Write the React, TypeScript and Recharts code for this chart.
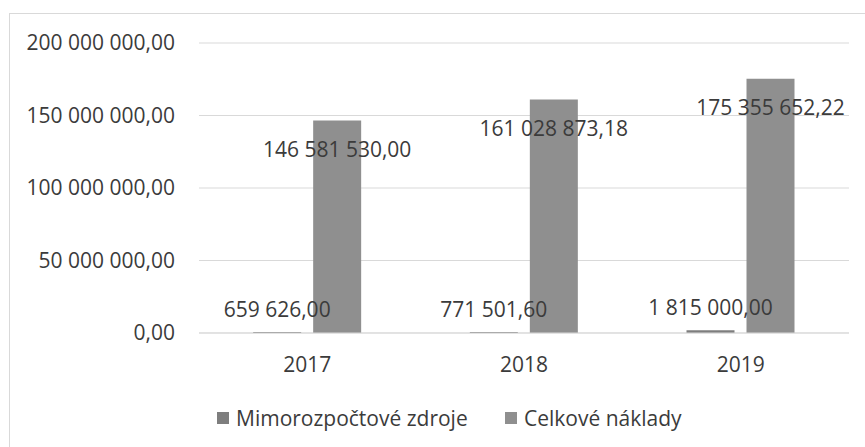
import React from 'react';
import { BarChart, Bar, XAxis, YAxis, CartesianGrid, Legend, LabelList } from 'recharts';

const years = ['2017', '2018', '2019'];
const mimorozpoctove = [659626.0, 771501.6, 1815000.0];
const celkove = [146581530.0, 161028873.18, 175355652.22];
const yTicks = [0, 50000000, 100000000, 150000000, 200000000];

const SERIES = [
  { key: 'mimo', name: 'Mimorozpočtové zdroje', color: '#7e7e7e' },
  { key: 'celk', name: 'Celkové náklady', color: '#8f8f8f' },
];

const FONT = '"Open Sans", sans-serif';
const TEXT = '#3b3b3b';

const data = years.map((year, i) => ({ year, mimo: mimorozpoctove[i], celk: celkove[i] }));

// Czech style: 146 581 530,00
const fmt = (v: any) => {
  const [int, dec] = Number(v).toFixed(2).split('.');
  return int.replace(/\B(?=(\d{3})+(?!\d))/g, ' ') + ',' + dec;
};

// single-line labels, no wrapping to the bar width
const aboveLabel = (props: any) => {
  const { x, y, width, value } = props;
  return (
    <text x={x + width / 2} y={y - 15} textAnchor="middle" fill={TEXT} fontSize={21} fontFamily={FONT}>
      {fmt(value)}
    </text>
  );
};

const insideTopLabel = (props: any) => {
  const { x, y, width, value } = props;
  return (
    <text x={x + width / 2} y={y + 21} dy="0.72em" textAnchor="middle" fill={TEXT} fontSize={21} fontFamily={FONT}>
      {fmt(value)}
    </text>
  );
};

const LegendContent = () => (
  <div style={{ position: 'relative', height: 40, fontFamily: FONT, fontSize: 21, lineHeight: '22px', color: TEXT }}>
    <span style={{ position: 'absolute', left: 217, top: 5, width: 12, height: 12, background: SERIES[0].color }} />
    <span style={{ position: 'absolute', left: 236, top: 0, whiteSpace: 'nowrap' }}>{SERIES[0].name}</span>
    <span style={{ position: 'absolute', left: 505, top: 5, width: 12, height: 12, background: SERIES[1].color }} />
    <span style={{ position: 'absolute', left: 524, top: 0, whiteSpace: 'nowrap' }}>{SERIES[1].name}</span>
  </div>
);

export default function App() {
  return (
    <div style={{ position: 'absolute', left: 0, top: 0, width: 865, height: 447, background: '#fff', overflow: 'hidden' }}>
      <div style={{ position: 'absolute', left: 9, top: 13, width: 900, height: 500, border: '1px solid #d9d9d9' }} />
      <BarChart
        width={865}
        height={447}
        data={data}
        margin={{ top: 43, right: 16, left: 0, bottom: 0 }}
        barCategoryGap="25%"
        barGap={12}
        style={{ fontFamily: FONT }}
      >
        <CartesianGrid vertical={false} stroke="#d9d9d9" />
        <XAxis
          dataKey="year"
          height={74}
          tickSize={0}
          tickMargin={24}
          axisLine={{ stroke: '#d9d9d9' }}
          tick={{ fill: TEXT, fontSize: 21, fontFamily: FONT }}
        />
        <YAxis
          width={199}
          domain={[0, 200000000]}
          ticks={yTicks}
          tickFormatter={fmt}
          tickSize={0}
          tickMargin={24}
          axisLine={false}
          tickLine={false}
          tick={{ fill: TEXT, fontSize: 21, fontFamily: FONT }}
        />
        <Legend
          verticalAlign="bottom"
          content={<LegendContent />}
          wrapperStyle={{ left: 0, bottom: 0, width: 865, height: 40 }}
        />
        <Bar dataKey="mimo" name={SERIES[0].name} fill={SERIES[0].color} isAnimationActive={false}>
          <LabelList dataKey="mimo" content={aboveLabel} />
        </Bar>
        <Bar dataKey="celk" name={SERIES[1].name} fill={SERIES[1].color} isAnimationActive={false}>
          <LabelList dataKey="celk" content={insideTopLabel} />
        </Bar>
      </BarChart>
    </div>
  );
}
